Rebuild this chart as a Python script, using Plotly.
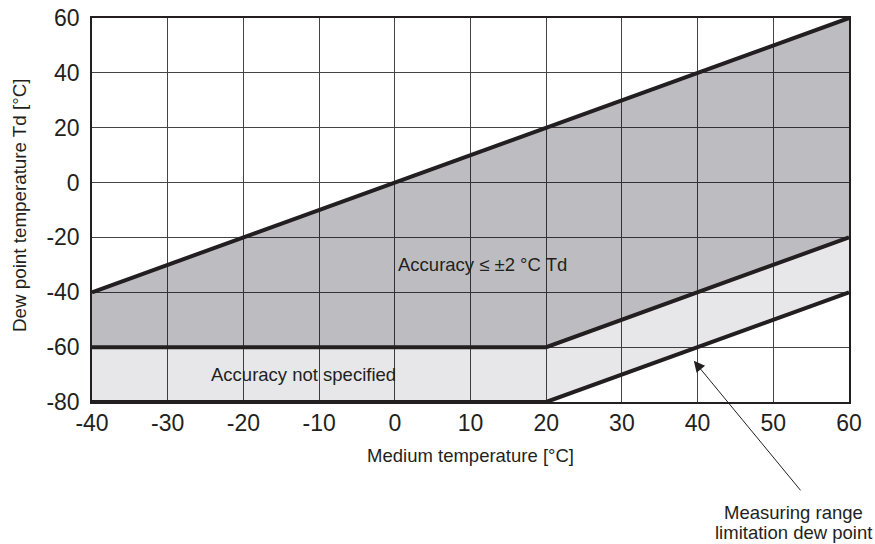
import plotly.graph_objects as go

# Boundary lines (medium temperature x, dew point y)
x_upper = [-40, 60]
y_upper = [-40, 60]
x_mid = [-40, 20, 60]
y_mid = [-60, -60, -20]
x_low = [-40, 20, 60]
y_low = [-80, -80, -40]

x_ticks = [-40, -30, -20, -10, 0, 10, 20, 30, 40, 50, 60]
y_ticks = [-80, -60, -40, -20, 0, 20, 40, 60]

FONT = "Liberation Sans, Arial, sans-serif"
INK = "#231f20"

# plot-area pixel geometry (for paper-referenced labels)
L, T, W, H = 92, 18, 757, 384


def px(xp):
    return (xp - L) / W


def py(yp):
    return (T + H - yp) / H


fig = go.Figure()

# dark region: accuracy <= 2 °C Td
fig.add_trace(go.Scatter(
    x=x_upper + x_mid[::-1], y=y_upper + y_mid[::-1],
    fill="toself", fillcolor="rgba(0,0,15,0.26)", mode="none",
    hoverinfo="skip", showlegend=False))
# light region: accuracy not specified
fig.add_trace(go.Scatter(
    x=x_mid + x_low[::-1], y=y_mid + y_low[::-1],
    fill="toself", fillcolor="rgba(0,0,20,0.095)", mode="none",
    hoverinfo="skip", showlegend=False))

for xs, ys in [(x_upper, y_upper), (x_mid, y_mid), (x_low, y_low)]:
    fig.add_trace(go.Scatter(x=xs, y=ys, mode="lines",
                             line=dict(color=INK, width=4),
                             cliponaxis=False, hoverinfo="skip",
                             showlegend=False))

fig.add_annotation(x=11.6, y=-30, text="Accuracy \u2264 \u00b12 \u00b0C Td",
                   showarrow=False, font=dict(family=FONT, size=18.5, color=INK))
fig.add_annotation(x=-12.1, y=-70, text="Accuracy not specified",
                   showarrow=False, font=dict(family=FONT, size=18.5, color=INK))
fig.add_annotation(x=39.5, y=-65, text="", showarrow=True, ax=108, ay=131,
                   arrowhead=2, arrowsize=2.2, arrowwidth=1, arrowcolor=INK,
                   standoff=0)
fig.add_annotation(xref="paper", yref="paper", x=px(793), y=py(512),
                   text="Measuring range", showarrow=False,
                   xanchor="center", yanchor="middle",
                   font=dict(family=FONT, size=18.5, color=INK))
fig.add_annotation(xref="paper", yref="paper", x=px(793), y=py(532),
                   text="limitation dew point", showarrow=False,
                   xanchor="center", yanchor="middle",
                   font=dict(family=FONT, size=18.5, color=INK))
fig.add_annotation(xref="paper", yref="paper", x=px(19), y=py(205),
                   text="Dew point temperature Td [\u00b0C]", showarrow=False,
                   textangle=-90, xanchor="center", yanchor="middle",
                   font=dict(family=FONT, size=18.8, color=INK))

axis_common = dict(showgrid=True, gridcolor="#444444", gridwidth=1,
                   showline=True, mirror=True, linecolor=INK, linewidth=1.5,
                   zeroline=False, ticks="", tickfont=dict(family=FONT, size=23, color=INK),
                   automargin=False)

fig.update_xaxes(range=[-40, 60], tickvals=x_ticks, ticktext=[str(v) for v in x_ticks],
                 ticklabelstandoff=0,
                 title=dict(text="Medium temperature [\u00b0C]", standoff=14,
                            font=dict(family=FONT, size=18.5, color=INK)),
                 **axis_common)
fig.update_yaxes(range=[-80, 60], tickvals=y_ticks, ticktext=[str(v) for v in y_ticks],
                 ticklabelstandoff=6, **axis_common)

fig.update_layout(width=875, height=544, margin=dict(l=92, r=26, t=18, b=142, autoexpand=False),
                  plot_bgcolor="white", paper_bgcolor="white",
                  font=dict(family=FONT, color=INK))

fig.write_html("out.html")
